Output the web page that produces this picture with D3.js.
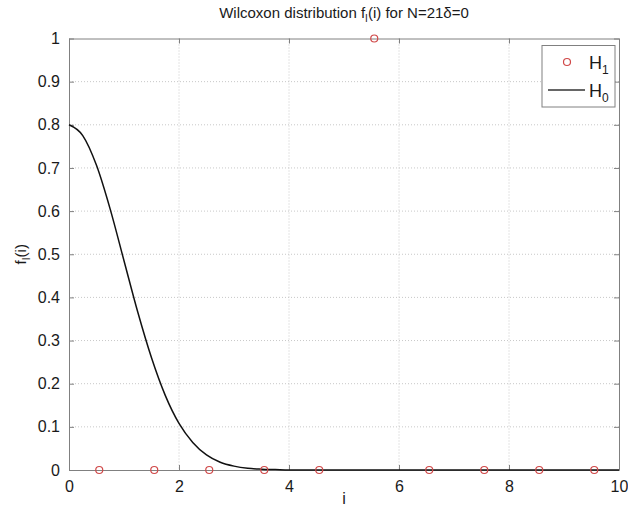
<!DOCTYPE html>
<html>
<head>
<meta charset="utf-8">
<script src="https://cdn.jsdelivr.net/npm/d3@7"></script>
<style>
  body { margin: 0; background: #fff; }
  svg { font-family: "Liberation Sans", Arial, sans-serif; }
</style>
</head>
<body>
<svg id="chart" width="628" height="510"></svg>
<script>
// H0 curve samples (i step 0.25)
const h0X = [0, 0.25, 0.5, 0.75, 1, 1.25, 1.5, 1.75, 2, 2.25, 2.5, 2.75, 3, 3.25, 3.5, 3.75, 4, 5, 6, 7, 8, 9, 10];
const h0Y = [0.8, 0.775, 0.706, 0.604, 0.485, 0.366, 0.26, 0.173, 0.108, 0.064, 0.035, 0.018, 0.009, 0.004, 0.002, 0.001, 0, 0, 0, 0, 0, 0, 0];
// H1 points
const h1X = [0.55, 1.55, 2.55, 3.55, 4.55, 5.55, 6.55, 7.55, 8.55, 9.55];
const h1Y = [0, 0, 0, 0, 0, 1, 0, 0, 0, 0];
const xTicks = [0, 2, 4, 6, 8, 10];
const yTicks = [0, 0.1, 0.2, 0.3, 0.4, 0.5, 0.6, 0.7, 0.8, 0.9, 1];

const svg = d3.select('#chart');
const margin = {top: 38.5, right: 9, bottom: 40, left: 69};
const width = 628 - margin.left - margin.right;
const height = 510 - margin.top - margin.bottom;
const g = svg.append('g').attr('transform', `translate(${margin.left},${margin.top})`);

const x = d3.scaleLinear().domain([0, 10]).range([0, width]);
const y = d3.scaleLinear().domain([0, 1]).range([height, 0]);

const frame = '#808080';
const ink = '#1a1a1a';

// grid
g.append('g').selectAll('line')
  .data(xTicks.slice(1, -1))
  .enter().append('line')
  .attr('x1', d => x(d)).attr('x2', d => x(d))
  .attr('y1', 0).attr('y2', height)
  .attr('stroke', '#c8c8c8').attr('stroke-dasharray', '1,2');
g.append('g').selectAll('line')
  .data(yTicks.slice(1, -1))
  .enter().append('line')
  .attr('x1', 0).attr('x2', width)
  .attr('y1', d => y(d)).attr('y2', d => y(d))
  .attr('stroke', '#c8c8c8').attr('stroke-dasharray', '1,2');

// axes (ticks inside, like matlab)
const xAxis = g.append('g').attr('transform', `translate(0,${height})`)
  .call(d3.axisBottom(x).tickValues(xTicks).tickSizeInner(-5).tickSizeOuter(0).tickPadding(9));
const yAxis = g.append('g')
  .call(d3.axisLeft(y).tickValues(yTicks).tickSizeInner(-5).tickSizeOuter(0).tickPadding(9)
    .tickFormat(d => d3.format('~g')(d)));
g.append('g')
  .call(d3.axisTop(x).tickValues(xTicks).tickSizeInner(-5).tickSizeOuter(0).tickFormat(''));
g.append('g').attr('transform', `translate(${width},0)`)
  .call(d3.axisRight(y).tickValues(yTicks).tickSizeInner(-5).tickSizeOuter(0).tickFormat(''));
g.selectAll('.domain').attr('stroke', frame);
g.selectAll('.tick line').attr('stroke', frame);
g.selectAll('.tick text').attr('fill', ink).style('font-size', '16px');
xAxis.selectAll('.tick text').attr('dy', '0.8em');

// H0 line
const line = d3.line()
  .x((d, i) => x(h0X[i]))
  .y((d, i) => y(h0Y[i]))
  .curve(d3.curveMonotoneX);
g.append('path')
  .datum(h0X)
  .attr('d', line)
  .attr('fill', 'none')
  .attr('stroke', '#111')
  .attr('stroke-width', 1.5);

// H1 points
g.append('g').selectAll('circle')
  .data(h1X)
  .enter().append('circle')
  .attr('cx', d => x(d))
  .attr('cy', (d, i) => y(h1Y[i]))
  .attr('r', 3.5)
  .attr('fill', 'none')
  .attr('stroke', '#d04848')
  .attr('stroke-width', 1.2);

// legend
const lg = svg.append('g').attr('transform', 'translate(542,45.5)');
lg.append('rect').attr('width', 73).attr('height', 61.5)
  .attr('fill', '#fff').attr('stroke', frame);
lg.append('circle').attr('cx', 25).attr('cy', 16.5).attr('r', 3.5)
  .attr('fill', 'none').attr('stroke', '#d04848').attr('stroke-width', 1.2);
lg.append('line').attr('x1', 6).attr('x2', 43).attr('y1', 44.5).attr('y2', 44.5)
  .attr('stroke', '#333').attr('stroke-width', 1.5);
const h1t = lg.append('text').attr('x', 47).attr('y', 23).attr('fill', ink).style('font-size', '18px').text('H');
h1t.append('tspan').attr('dy', 5).style('font-size', '12px').text('1');
const h0t = lg.append('text').attr('x', 47).attr('y', 51).attr('fill', ink).style('font-size', '18px').text('H');
h0t.append('tspan').attr('dy', 5).style('font-size', '12px').text('0');

// title
const title = svg.append('text')
  .attr('x', margin.left + width / 2).attr('y', 18)
  .attr('text-anchor', 'middle').attr('fill', ink)
  .style('font-size', '15px');
title.append('tspan').text('Wilcoxon distribution f');
title.append('tspan').attr('dy', 4).style('font-size', '10px').text('I');
title.append('tspan').attr('dy', -4).text('(i) for N=21δ=0');

// axis labels
svg.append('text')
  .attr('x', margin.left + width / 2).attr('y', 504)
  .attr('text-anchor', 'middle').attr('fill', ink)
  .style('font-size', '16px').text('i');
const yl = svg.append('text')
  .attr('transform', `translate(26,${margin.top + height / 2}) rotate(-90)`)
  .attr('text-anchor', 'middle').attr('fill', ink)
  .style('font-size', '15px');
yl.append('tspan').text('f');
yl.append('tspan').attr('dy', 4).style('font-size', '10px').text('I');
yl.append('tspan').attr('dy', -4).text('(i)');
</script>
</body>
</html>
